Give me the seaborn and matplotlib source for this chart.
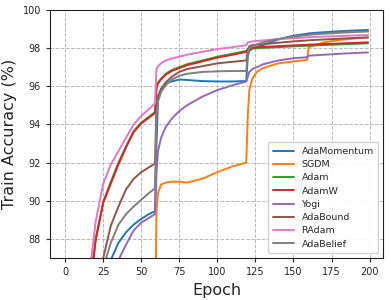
import numpy as np
import pandas as pd
import seaborn as sns
import matplotlib
matplotlib.use('Agg')
import matplotlib.pyplot as plt

epochs = [0, 5, 10, 15, 20, 25, 30, 35, 40, 45, 50, 55, 59, 60, 61, 63, 66, 70, 75, 80,
          90, 100, 110, 119, 120, 121, 123, 126, 130, 140, 150, 159, 160, 170, 180, 190, 199]

adamomentum = [25, 48, 63, 74, 80.5, 84.5, 86.9, 87.8, 88.35, 88.75, 89.05, 89.3, 89.45, 93.0, 95.3, 95.85, 96.15, 96.25, 96.35, 96.33,
               96.27, 96.25, 96.25, 96.27, 97.6, 97.85, 97.98, 98.05, 98.15, 98.45, 98.65, 98.75, 98.77, 98.83, 98.88, 98.92, 98.95]
sgdm = [30, 55, 66, 72, 75.5, 77.5, 79, 80, 81, 81.7, 82.3, 82.8, 83.2, 89.5, 90.4, 90.85, 90.95, 91.0, 91.0, 90.95,
        91.15, 91.5, 91.8, 92.0, 94.5, 95.8, 96.4, 96.75, 96.95, 97.2, 97.3, 97.38, 98.05, 98.3, 98.42, 98.5, 98.55]
adam = [38, 66, 77, 84.6, 88.0, 89.95, 91.0, 92.0, 92.85, 93.65, 94.1, 94.4, 94.65, 95.95, 96.2, 96.4, 96.65, 96.85, 97.0, 97.15,
        97.35, 97.55, 97.7, 97.85, 97.9, 97.95, 97.97, 97.99, 98.01, 98.05, 98.09, 98.12, 98.13, 98.16, 98.19, 98.22, 98.25]
adamw = [38, 66, 77, 84.5, 87.9, 89.9, 90.9, 91.9, 92.8, 93.6, 94.05, 94.35, 94.6, 95.9, 96.15, 96.35, 96.6, 96.8, 96.95, 97.1,
         97.3, 97.5, 97.65, 97.8, 97.95, 98.0, 98.02, 98.04, 98.06, 98.1, 98.14, 98.17, 98.18, 98.21, 98.24, 98.27, 98.3]
yogi = [22, 45, 60, 71, 78, 82.5, 85.3, 86.9, 87.7, 88.45, 88.85, 89.1, 89.3, 91.5, 92.6, 93.3, 93.85, 94.3, 94.7, 95.0,
        95.45, 95.8, 96.05, 96.25, 96.5, 96.75, 96.9, 97.0, 97.15, 97.35, 97.47, 97.52, 97.6, 97.65, 97.7, 97.74, 97.77]
adabound = [30, 55, 70, 79, 84.5, 87.0, 88.7, 89.7, 90.6, 91.15, 91.5, 91.75, 91.95, 95.0, 95.5, 95.85, 96.2, 96.5, 96.75, 96.9,
            97.05, 97.2, 97.28, 97.35, 97.9, 98.1, 98.15, 98.18, 98.2, 98.28, 98.35, 98.4, 98.41, 98.45, 98.49, 98.53, 98.56]
radam = [40, 68, 78, 85.5, 88.9, 90.9, 91.9, 92.6, 93.3, 94.0, 94.45, 94.8, 95.1, 96.9, 97.05, 97.2, 97.35, 97.45, 97.55, 97.65,
         97.8, 97.95, 98.05, 98.15, 98.3, 98.32, 98.35, 98.37, 98.4, 98.47, 98.52, 98.56, 98.57, 98.6, 98.63, 98.66, 98.68]
adabelief = [28, 52, 67, 77, 83, 86.5, 87.8, 88.75, 89.3, 89.7, 90.05, 90.4, 90.65, 94.5, 95.2, 95.7, 96.05, 96.35, 96.55, 96.65,
             96.75, 96.78, 96.8, 96.8, 97.7, 98.0, 98.1, 98.2, 98.3, 98.48, 98.6, 98.68, 98.7, 98.75, 98.8, 98.84, 98.87]

names = ['AdaMomentum', 'SGDM', 'Adam', 'AdamW', 'Yogi', 'AdaBound', 'RAdam', 'AdaBelief']
series = [adamomentum, sgdm, adam, adamw, yogi, adabound, radam, adabelief]

rows = []
for name, vals in zip(names, series):
    for e, v in zip(epochs, vals):
        rows.append({'Epoch': e, 'acc': v, 'opt': name})
df = pd.DataFrame(rows)

sns.set_style('ticks')
plt.rcParams['font.family'] = ['DejaVu Sans']

fig = plt.figure(figsize=(3.91, 3.0), dpi=100)
ax = fig.add_axes([0.128, 0.14, 0.852, 0.827])

sns.lineplot(data=df, x='Epoch', y='acc', hue='opt', hue_order=names,
             palette='tab10', linewidth=1.4, ax=ax)

ax.set_xlim(-9.95, 208.95)
ax.set_ylim(87, 100)
ax.set_xticks([0, 25, 50, 75, 100, 125, 150, 175, 200])
ax.set_yticks([88, 90, 92, 94, 96, 98, 100])
ax.tick_params(labelsize=7, length=3)
ax.grid(True, linestyle='--', color='#b8b8b8', linewidth=0.7)
for s in ax.spines.values():
    s.set_color('#222222')
ax.set_xlabel('Epoch', fontsize=11.5)
ax.set_ylabel('Train Accuracy (%)', fontsize=11.5)
ax.legend(loc='lower right', fontsize=6.8, title=None, handlelength=2.2,
          borderpad=0.5, labelspacing=0.45, framealpha=0.9)

fig.savefig('out.png', dpi=100)
